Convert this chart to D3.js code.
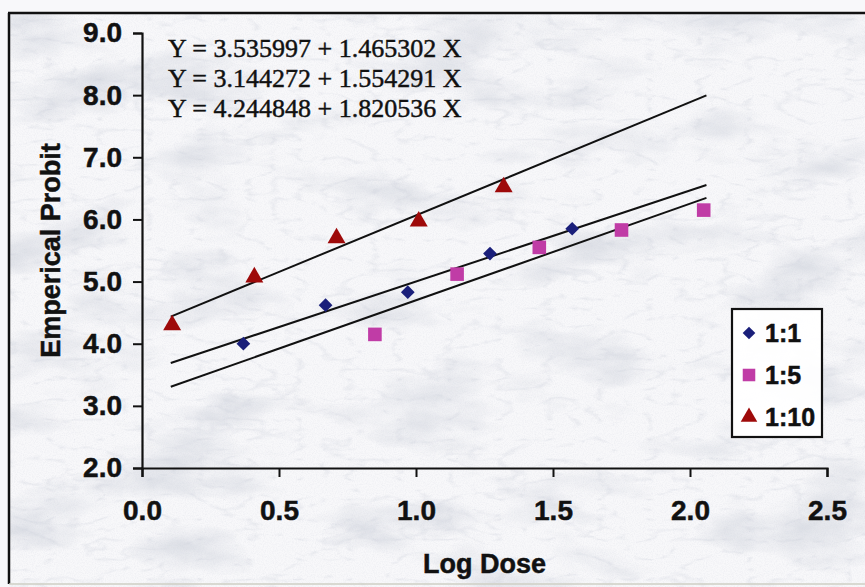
<!DOCTYPE html>
<html>
<head>
<meta charset="utf-8">
<script src="https://cdn.jsdelivr.net/npm/d3@7/dist/d3.min.js"></script>
<style>
  html, body { margin: 0; padding: 0; background: #ffffff; }
  svg { display: block; }
</style>
</head>
<body>
<script>
// ---- data ----
const seriesNames = ["1:1", "1:5", "1:10"];
const dose11 = [0.37, 0.67, 0.97, 1.27, 1.57];
const probit11 = [4.00, 4.62, 4.83, 5.45, 5.85];
const dose15 = [0.85, 1.15, 1.45, 1.75, 2.05];
const probit15 = [4.15, 5.12, 5.55, 5.83, 6.15];
const dose110 = [0.11, 0.41, 0.71, 1.01, 1.32];
const probit110 = [4.30, 5.07, 5.70, 5.97, 6.52];
const intercepts = [3.535997, 3.144272, 4.244848];
const slopes = [1.465302, 1.554291, 1.820536];
const equationLabels = [
  "Y = 3.535997 + 1.465302 X",
  "Y = 3.144272 + 1.554291 X",
  "Y = 4.244848 + 1.820536 X"
];
const fitRange = [0.105, 2.06];
const xTicks = [0.0, 0.5, 1.0, 1.5, 2.0, 2.5];
const yTicks = [2, 3, 4, 5, 6, 7, 8, 9];

const W = 865, H = 587;
const colors = ["#1a1f7a", "#c03ca6", "#9e0a0a"];
const symbols = [d3.symbolDiamond2, d3.symbolSquare, d3.symbolTriangle];
const symSizes = [120, 185, 140];

const svg = d3.select("body").append("svg").attr("width", W).attr("height", H);

// ---- marble background ----
const defs = svg.append("defs");
const f1 = defs.append("filter").attr("id", "marble").attr("x", 0).attr("y", 0).attr("width", "100%").attr("height", "100%");
f1.append("feTurbulence").attr("type", "fractalNoise").attr("baseFrequency", "0.008 0.018")
  .attr("numOctaves", 5).attr("seed", 11).attr("result", "n");
f1.append("feColorMatrix").attr("in", "n").attr("type", "matrix")
  .attr("values", "0 0 0 0 0.58  0 0 0 0 0.61  0 0 0 0 0.68  2.6 0 0 0 -1.3");
const f3 = defs.append("filter").attr("id", "veins").attr("x", 0).attr("y", 0).attr("width", "100%").attr("height", "100%");
f3.append("feTurbulence").attr("type", "turbulence").attr("baseFrequency", "0.02 0.05")
  .attr("numOctaves", 3).attr("seed", 5).attr("result", "v");
f3.append("feColorMatrix").attr("in", "v").attr("type", "matrix")
  .attr("values", "0 0 0 0 0.55  0 0 0 0 0.58  0 0 0 0 0.66  -3 0 0 0 0.55");
const f2 = defs.append("filter").attr("id", "grain").attr("x", 0).attr("y", 0).attr("width", "100%").attr("height", "100%");
f2.append("feTurbulence").attr("type", "fractalNoise").attr("baseFrequency", "0.9")
  .attr("numOctaves", 2).attr("seed", 3).attr("result", "g");
f2.append("feColorMatrix").attr("in", "g").attr("type", "matrix")
  .attr("values", "0 0 0 0 0.6  0 0 0 0 0.62  0 0 0 0 0.7  1.2 0 0 0 -0.45");

const bg = svg.append("g");
bg.append("rect").attr("x", 0).attr("y", 0).attr("width", W).attr("height", H).attr("fill", "#f8f8fa");
bg.append("rect").attr("x", 9).attr("y", 13).attr("width", W - 9).attr("height", H - 13)
  .attr("filter", "url(#marble)").attr("opacity", 0.6);
bg.append("rect").attr("x", 9).attr("y", 13).attr("width", W - 9).attr("height", H - 13)
  .attr("filter", "url(#veins)").attr("opacity", 0.5);
bg.append("rect").attr("x", 9).attr("y", 13).attr("width", W - 9).attr("height", H - 13)
  .attr("filter", "url(#grain)").attr("opacity", 0.35);

// frame
svg.append("line").attr("x1", 8).attr("x2", W).attr("y1", 13).attr("y2", 13).attr("stroke", "#111").attr("stroke-width", 2.5);
svg.append("line").attr("x1", 9).attr("x2", 9).attr("y1", 13).attr("y2", 584).attr("stroke", "#111").attr("stroke-width", 2.5);
svg.append("line").attr("x1", 9).attr("x2", W).attr("y1", 584).attr("y2", 584).attr("stroke", "#cfcfc4").attr("stroke-width", 1.5);

// ---- scales ----
const x = d3.scaleLinear().domain([0, 2.5]).range([142, 827]);
const y = d3.scaleLinear().domain([2, 9]).range([468, 33]);

const fontSans = "'Liberation Sans', Arial, sans-serif";
function heavy(sel) { return sel.attr("stroke", "#111").attr("stroke-width", 0.5); }

// y axis
const yAxis = svg.append("g").attr("transform", `translate(${x(0)},0)`)
  .call(d3.axisLeft(y).tickValues(yTicks).tickFormat(d3.format(".1f")).tickSize(9).tickPadding(11));
// x axis
const xAxis = svg.append("g").attr("transform", `translate(0,${y(2)})`)
  .call(d3.axisBottom(x).tickValues(xTicks).tickFormat(d3.format(".1f")).tickSize(9).tickPadding(24));
[yAxis, xAxis].forEach(a => {
  a.select(".domain").attr("stroke", "#111").attr("stroke-width", 2.2);
  a.selectAll(".tick line").attr("stroke", "#111").attr("stroke-width", 2);
  heavy(a.selectAll(".tick text").attr("fill", "#111").style("font-family", fontSans)
    .style("font-weight", "bold").style("font-size", "28px"));
});
xAxis.selectAll(".tick text").attr("dy", "0.68em");

// axis titles
heavy(svg.append("text").attr("x", x(1.25)).attr("y", 573).attr("text-anchor", "middle")
  .style("font-family", fontSans).style("font-weight", "bold").style("font-size", "27px")
  .attr("fill", "#111").text("Log Dose"));
heavy(svg.append("text").attr("transform", `translate(60,${(y(2) + y(9)) / 2}) rotate(-90)`)
  .attr("text-anchor", "middle")
  .style("font-family", fontSans).style("font-weight", "bold").style("font-size", "27px")
  .attr("fill", "#111").text("Emperical Probit"));

// ---- regression lines ----
const line = d3.line().x(d => x(d[0])).y(d => y(d[1]));
intercepts.forEach((b, i) => {
  const pts = fitRange.map(v => [v, b + slopes[i] * v]);
  svg.append("path").datum(pts).attr("d", line).attr("fill", "none")
    .attr("stroke", "#111").attr("stroke-width", 2);
});

// ---- points ----
const seriesData = [
  dose11.map((d, i) => [d, probit11[i]]),
  dose15.map((d, i) => [d, probit15[i]]),
  dose110.map((d, i) => [d, probit110[i]])
];
seriesData.forEach((pts, s) => {
  svg.append("g").selectAll("path").data(pts).join("path")
    .attr("transform", d => `translate(${x(d[0])},${y(d[1])})`)
    .attr("d", d3.symbol().type(symbols[s]).size(symSizes[s]))
    .attr("fill", colors[s]);
});

// ---- equations ----
equationLabels.forEach((t, i) => {
  svg.append("text").attr("x", 168).attr("y", 57 + i * 30)
    .style("font-family", "'Liberation Serif', 'Times New Roman', serif").style("font-size", "26px")
    .attr("fill", "#111").attr("stroke", "#111").attr("stroke-width", 0.45).text(t);
});

// ---- legend ----
const lg = svg.append("g").attr("transform", "translate(732,309)");
lg.append("rect").attr("width", 90).attr("height", 128).attr("fill", "#ffffff").attr("fill-opacity", 0.92)
  .attr("stroke", "#111").attr("stroke-width", 2.2);
seriesNames.forEach((n, i) => {
  const cy = 24 + i * 42;
  lg.append("path").attr("transform", `translate(17,${cy})`)
    .attr("d", d3.symbol().type(symbols[i]).size(symSizes[i] * 0.85)).attr("fill", colors[i]);
  heavy(lg.append("text").attr("x", 33).attr("y", cy + 9)
    .style("font-family", fontSans).style("font-weight", "bold").style("font-size", "25px")
    .attr("fill", "#111").text(n));
});
</script>
</body>
</html>
